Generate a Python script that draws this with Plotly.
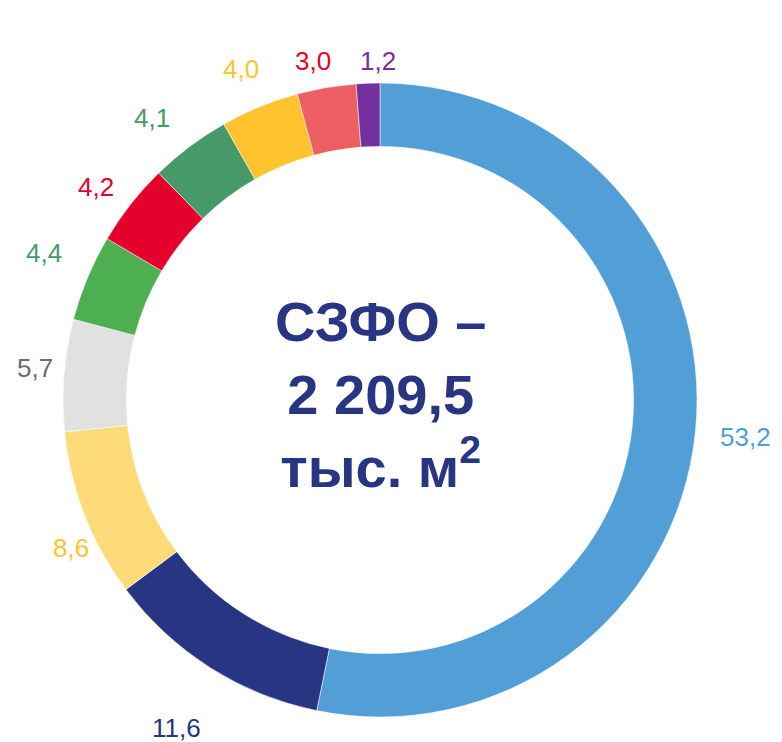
import math
import plotly.graph_objects as go

# Shares of the total area, percent, clockwise from 12 o'clock
values = [53.2, 11.6, 8.6, 5.7, 4.4, 4.2, 4.1, 4.0, 3.0, 1.2]
value_labels = ["53,2", "11,6", "8,6", "5,7", "4,4", "4,2", "4,1", "4,0", "3,0", "1,2"]
slice_colors = ["#529FD7", "#283583", "#FDDB78", "#E1E1E1", "#4DAF4F",
                "#E4002B", "#469A69", "#FFC32E", "#EC6064", "#7530A0"]
text_colors = ["#529FD7", "#283583", "#FFC32E", "#6B6B6B", "#469A69",
               "#E4002B", "#469A69", "#FFC32E", "#E4002B", "#7530A0"]

center_lines = ["СЗФО –", "2 209,5", "тыс. м<sup>2</sup>"]

# Label placement: distance from the centre (px) and small angular nudges (deg)
label_radius = [367, 386, 343, 346, 367, 355, 363, 359, 346, 339]
label_nudge = [0, -0.6, -4.4, 0.8, 0.9, -1.3, -2.1, -0.5, -1.5, 1.9]

W, H = 782, 742
CX, CY, R = 380, 400, 317

fig = go.Figure(go.Pie(
    values=values,
    sort=False,
    direction="clockwise",
    rotation=0,
    hole=0.80,
    marker=dict(colors=slice_colors, line=dict(color="white", width=0.5)),
    textinfo="none",
    hoverinfo="skip",
    showlegend=False,
    domain=dict(x=[(CX - R) / W, (CX + R) / W],
                y=[(H - CY - R) / H, (H - CY + R) / H]),
))

total = sum(values)
annotations = []
cum = 0.0
for v, txt, col, rad, nudge in zip(values, value_labels, text_colors,
                                   label_radius, label_nudge):
    mid = (cum + v / 2) / total * 360 + nudge
    cum += v
    a = math.radians(mid)
    px = CX + rad * math.sin(a)
    py = CY - rad * math.cos(a)
    annotations.append(dict(
        x=px / W, y=1 - py / H, xref="paper", yref="paper",
        text=txt, showarrow=False, xanchor="center", yanchor="middle",
        font=dict(family="Arial, Liberation Sans, sans-serif", size=26, color=col),
    ))

annotations.append(dict(
    x=CX / W, y=1 - 394 / H, xref="paper", yref="paper",
    text="<br>".join("<b>%s</b>" % line for line in center_lines),
    showarrow=False, xanchor="center", yanchor="middle", align="center",
    font=dict(family="Arial, Liberation Sans, sans-serif", size=56, color="#283583"),
))

fig.update_layout(
    width=W, height=H,
    margin=dict(l=0, r=0, t=0, b=0),
    paper_bgcolor="white", plot_bgcolor="white",
    annotations=annotations,
)

fig.write_html("out.html")
